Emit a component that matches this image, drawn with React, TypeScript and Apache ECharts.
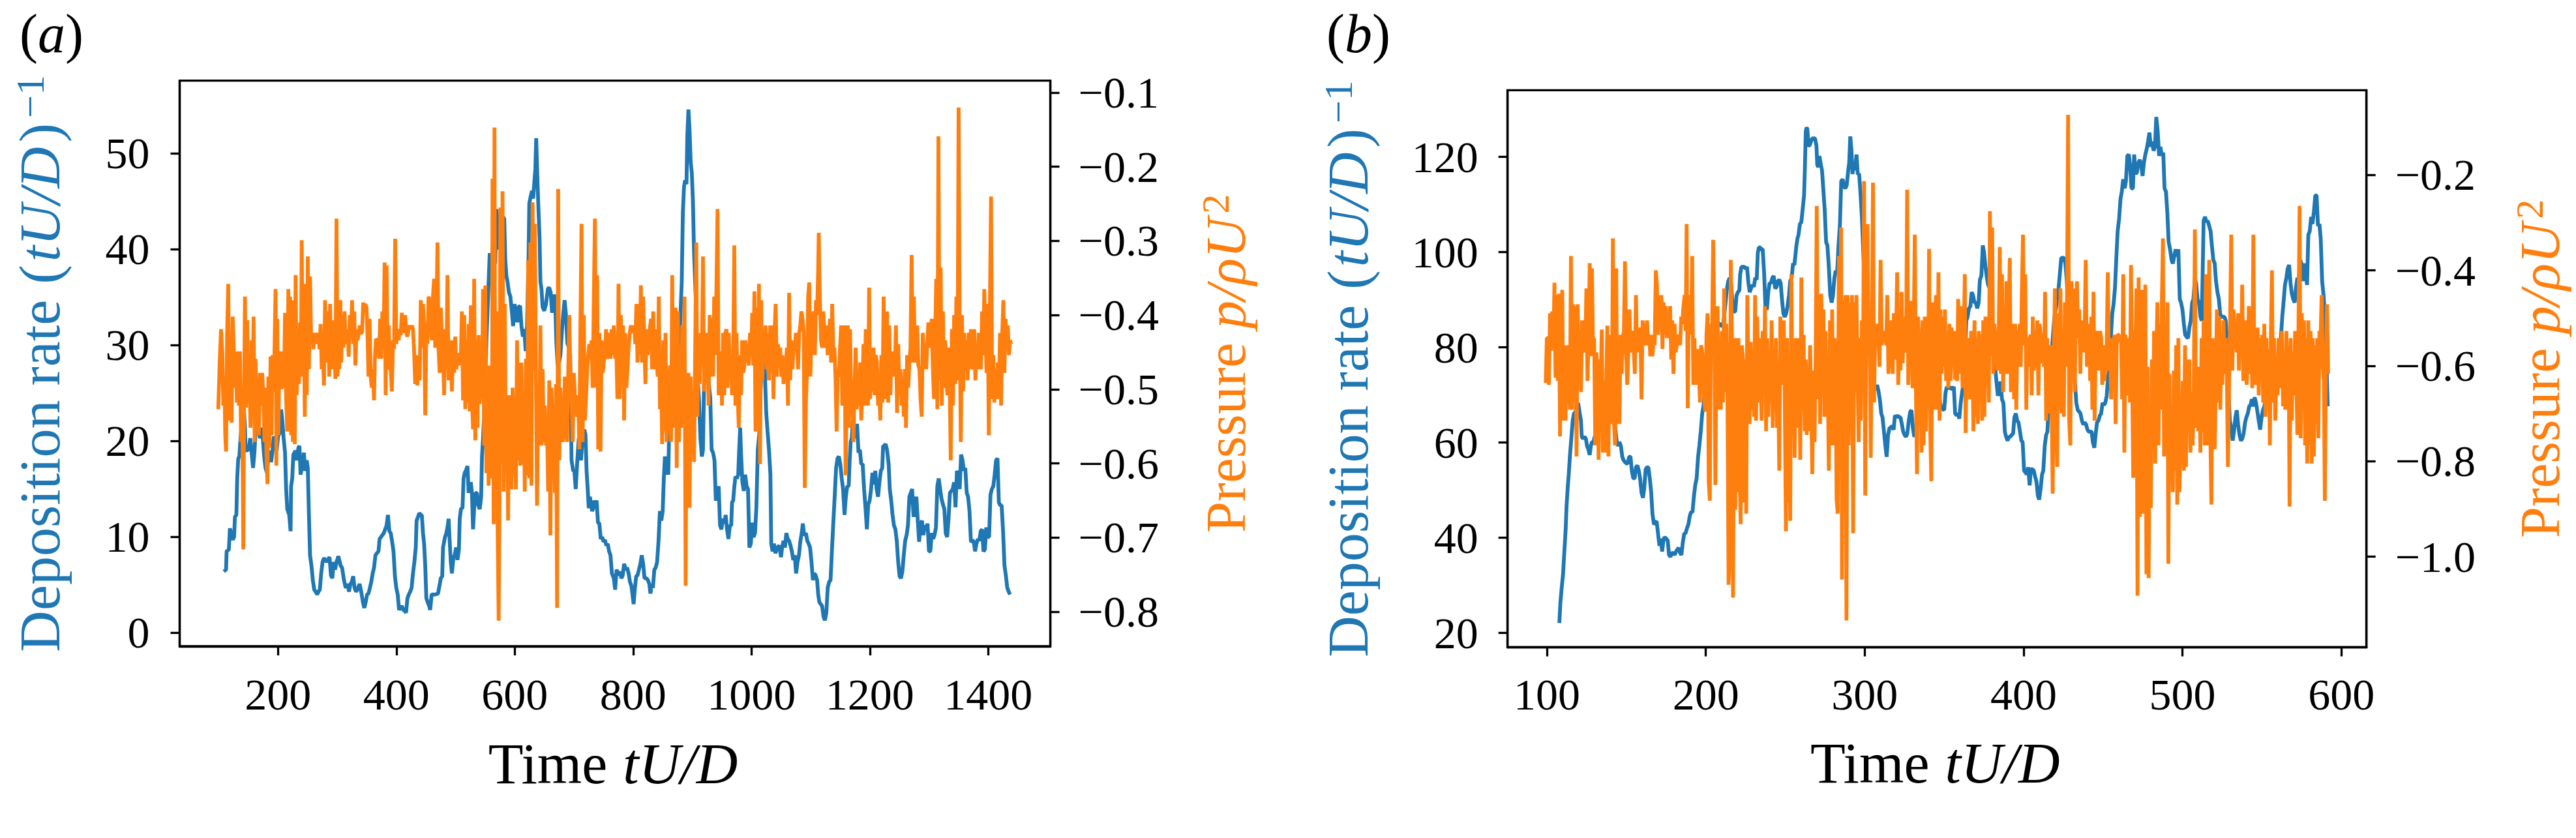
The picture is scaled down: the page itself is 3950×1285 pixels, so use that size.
import React, { useEffect, useRef } from 'react';
import * as echarts from 'echarts';

const BLUE = '#1f77b4';
const ORANGE = '#ff7f0e';
const FONT = '"Liberation Serif", "Times New Roman", serif';

// ---------- Panel (a) ----------
const timeRangeA = [33.9, 1505];
const depRangeA = [-1.4, 57.6];
const presRangeA = [-0.8466, -0.0839];
const timeTicksA = [200, 400, 600, 800, 1000, 1200, 1400];
const depTicksA = [0, 10, 20, 30, 40, 50];
const presTicksA = [-0.8, -0.7, -0.6, -0.5, -0.4, -0.3, -0.2, -0.1];

const depositionA: [number, number][] = [
  [108.5,6.4],[112.3,6.6],[113.2,8.5],[117,8.7],[118.8,10.9],[121.7,10.2],[123.5,9.7],[125.9,10],[127.3,12.1],[129.7,12.3],[131.1,16.1],[132.9,18.2],[134.8,18.4],[136.7,20.3],[139.1,21.8],[142.3,23.5],[144.2,21.4],[145.2,19.1],[148.5,19],[150.8,19.3],[153.2,20.3],[155.5,18.8],[157.9,17.2],[160.2,18.8],[162.6,21.4],[164.9,23.5],[167.3,21.4],[169.6,20.3],[172,21.4],[174.3,20.3],[176.7,18.4],[179,17.2],[181.4,16.7],[183.7,18.4],[186.1,19],[188.4,17.8],[190.8,19],[193.1,20.5],[195.5,19.3],[197.8,19],[200.2,20.5],[203.4,20.9],[205.3,23.3],[207.2,22.2],[209.6,20.3],[211.9,18.8],[213.8,15],[215.7,12.9],[219,12.3],[221.3,10.6],[222.2,15.3],[224.1,16.1],[226,18.6],[229.8,19],[231.6,18],[234.5,19.3],[236.3,19.5],[238.2,16.5],[241,17.6],[243.9,18.8],[245.7,16.9],[248.6,18],[250.4,17.2],[252.3,12.3],[254.2,8.1],[256.6,7],[258.9,5.5],[261.3,4.5],[263.6,4.3],[266.4,4],[268.3,4.3],[270.7,4.5],[273,6.2],[275.4,7.4],[277.7,7.8],[282.4,7.4],[287.1,7.9],[289.5,6],[291.8,5.7],[294.2,7.4],[296.5,6.6],[298.9,7.4],[302.1,8],[305.9,7],[308.3,6.8],[311.5,5.5],[314.4,4.7],[317.7,5.1],[320,4.3],[322.4,5.1],[324.7,5.3],[327.1,5.9],[329.4,4.7],[331.8,4.3],[334.1,4.5],[337.9,5.1],[341.2,4.1],[343.5,3.2],[345.9,2.6],[348.2,3.2],[350.6,4],[352.9,4.1],[355.3,4.7],[357.6,5.3],[360,6.2],[362.3,6.8],[364.7,8.1],[367,8.3],[369.8,8.5],[371.7,9.8],[374.1,10],[376.4,10.2],[378.8,10.4],[381.1,10.8],[383.5,11.2],[385.8,12.3],[388.2,10.6],[390.5,10.4],[392.9,9.5],[395.2,8.5],[397.6,5.9],[399.9,4.7],[402.3,4],[404.6,2.4],[407,2.6],[409.3,2.8],[411.7,2.4],[414,2.3],[416.4,2.1],[418.7,3.6],[421.1,4],[423.4,4.3],[425.8,4.7],[428.1,6.2],[430.5,7.4],[432.8,8.9],[434.2,11.7],[436.6,12.1],[438.9,12.5],[441.3,12.3],[443.1,12.3],[445,10.4],[446.9,9.3],[448.8,7],[450.7,3.6],[453,3.2],[455.4,2.8],[457.2,2.4],[459.6,4],[461.9,4],[465.7,4],[470.4,4.1],[472.8,4.9],[475.1,5.7],[477.5,5.9],[478.9,8.9],[482.2,10],[484.5,10.4],[486.9,11.2],[488.3,11.9],[490.1,9.6],[492,7.4],[493.9,6.2],[496.3,7.8],[498.6,8.1],[501,8.9],[503.3,7.6],[505.7,8.7],[507.1,11.9],[509.4,13],[511.8,13],[513.6,16.1],[515.5,16.7],[517.4,16.9],[520.2,17.4],[522.1,14.6],[524,15.3],[525.9,15.7],[527.7,14.6],[529.6,10.8],[531.5,13],[533.9,14.6],[536.2,14.6],[538.6,13.3],[540.9,12.9],[543.3,14.2],[544.7,18.4],[546.5,20.3],[548.4,22.9],[550.3,26.3],[552.2,30.5],[554.1,33.6],[555.9,36.6],[557.8,39.6],[559.7,39.3],[561.6,38.5],[563.5,41.5],[565.3,41.5],[567.2,38.5],[569.1,44.2],[571,42.7],[572.9,40],[574.7,41.5],[576.6,43.6],[578.5,40],[580.4,43.4],[582.3,43.2],[584.1,38.9],[586,37.2],[587.9,36.6],[590.3,35.5],[592.6,35.1],[595,33.6],[597.3,32],[599.7,34.3],[602,33.6],[604.4,32.4],[606.7,34],[609.1,34.1],[611.4,32],[613.8,30.9],[616.1,31.7],[618.5,29.4],[620.8,32],[623.2,38.5],[624.6,44.8],[626.9,45.5],[629.3,46.1],[631.1,45.3],[633,46.9],[634.9,48.4],[636.3,51.6],[638.2,47.6],[640.1,44.2],[642,41.2],[643.4,36.6],[645.2,35.9],[647.1,34],[649.9,33.6],[652.8,34.3],[656.1,35.9],[658.4,36],[660.8,35.5],[663.1,33.4],[665,34],[666.9,35.3],[668.7,34],[670.2,30.5],[672.5,27.9],[674.9,28.2],[677.2,29],[679.6,31.3],[681.9,33.2],[684.3,34.7],[686.6,33.2],[689,30.2],[691.3,29.8],[693.7,29],[696,18],[698.8,16.9],[700.7,16.9],[703.1,15],[705.4,17.6],[708.2,20.3],[710.1,19.1],[712,18],[714.8,20.3],[717.6,21.2],[719.5,20.7],[721.4,16.9],[723.3,15],[725.1,13],[727,14.2],[728.9,13.4],[730.8,12.7],[732.7,13],[734.5,13.8],[736.4,13.4],[738.3,13.8],[740.7,11.5],[743,11.4],[745.4,9.8],[747.7,10],[750.1,9.5],[752.4,9.7],[754.8,9.1],[757.1,9.3],[759.5,8.5],[761.8,8.1],[764.2,6.2],
  [767.4,5.7],[769.7,4.5],[772.1,6.6],[775.4,6],[777.8,6.4],[780.1,5.7],[782.5,6],[784.8,7.2],[787.7,6.6],[790,6.8],[792.4,6.2],[794.8,5.3],[797.1,4.9],[799,4],[800.9,3],[802.8,4.5],[805.2,5.9],[807.5,6],[809.9,6.6],[812.3,7.2],[814.6,8.1],[817,7.2],[819.3,5.7],[822.6,5.7],[825,5.5],[827.4,5.1],[829.3,4.1],[831.2,4.9],[833.5,4.7],[835.9,6.6],[838.2,6.8],[840.6,7.4],[843,9.6],[845.3,12.7],[847.7,11.7],[850,12.7],[851.9,16.1],[853.8,18.4],[855.7,16.5],[858.1,17.6],[859.5,16.5],[861.9,24.1],[864.2,25],[866.6,23.7],[869,22.6],[871.3,25.2],[873.7,27.5],[876,28.6],[877.5,29],[879.3,32],[882.2,36.6],[884.1,43.8],[886,46.5],[887.9,47.2],[890.2,46.8],[891.6,51.8],[893.5,54.6],[895.4,52.5],[897.3,49.1],[899.2,48],[901.1,45],[903,39.6],[904.9,36.6],[906.8,33.2],[909.1,26.7],[911.5,24.1],[913.8,20.3],[916.2,18.4],[918.1,19.1],[920,26.3],[921.9,28.6],[923.8,29],[925.7,27.9],[928,26],[930.4,24.5],[932.7,19.1],[935.1,18.8],[937.5,18],[939.8,13.8],[942.2,14.2],[944.6,15.3],[946.9,11.2],[949.3,10.8],[951.6,11.9],[954,11.4],[956.4,12.3],[958.7,10.8],[961.1,9.8],[963.5,11.2],[965.8,11.2],[967.2,13.6],[969.1,13.8],[971,15.2],[972.9,16.3],[975.3,16.1],[977.6,16.5],[979,18.8],[980.9,21.4],[982.4,18.8],[984.7,15.7],[987.1,14.8],[989.4,16.5],[991.8,15.3],[994.2,15],[996.5,8.9],[998.9,9.3],[1001.3,11.5],[1003.6,10],[1006,10.4],[1008.3,13.1],[1010.7,19.1],[1013.1,20.7],[1015.4,25.2],[1017.8,29],[1020.2,29.8],[1022.5,27.5],[1024.9,23],[1027.2,21],[1029.6,19.1],[1032,16.5],[1033.4,9.3],[1035.7,8.5],[1038.1,9.3],[1040.5,8.3],[1043.8,8.9],[1047.1,9.1],[1049.9,7.9],[1051.8,8.9],[1054.2,9.6],[1056.5,8.9],[1058.9,10.4],[1061.3,9.8],[1063.6,9.6],[1066,9.1],[1068.3,8.5],[1070.7,7.6],[1073.1,8.1],[1075.4,6.2],[1077.8,7.4],[1080.2,8.1],[1082.5,9.5],[1084.9,10.4],[1086.8,11.4],[1089.1,10.2],[1092,10.4],[1094.3,9.6],[1096.7,9.3],[1099,8.9],[1101.4,7.4],[1103.8,5.5],[1106.1,6.2],[1108.5,6],[1110.9,5.5],[1112.8,4],[1114.7,3.2],[1117,3],[1119.4,2.8],[1121.7,1.7],[1124.1,1.3],[1126.5,2.1],[1128.8,4.7],[1131.2,5.3],[1133.6,5.5],[1135.9,8.5],[1138.3,11.5],[1140.6,14.2],[1143,17.2],[1145.4,18.2],[1147.7,18.4],[1150.1,17.6],[1152.5,16.1],[1154.8,15],[1157.2,12.3],[1159.5,14.2],[1161.9,15.3],[1164.3,15.3],[1165.7,17.6],[1167.6,19.9],[1169.5,20.3],[1171.4,22.2],[1173.7,21],[1176.1,20.3],[1178.4,21.8],[1180.8,18.8],[1183.2,19.1],[1185.5,17.6],[1187.9,17.6],[1190.3,15],[1192.6,13.1],[1195,10.8],[1197.3,13.4],[1199.7,13.8],[1202.1,15],[1204.4,16.7],[1206.8,15.5],[1209.2,16.9],[1211.5,15],[1213.9,14.2],[1216.2,15.7],[1218.6,16.9],[1221,17.2],[1222.4,19.5],[1224.3,19.5],[1226.6,19.7],[1229,19.1],[1231.8,17.6],[1233.7,15],[1236.1,13.8],[1238.4,12.3],[1240.8,11.2],[1243.2,10.8],[1245.5,9.6],[1247.9,7.4],[1250.3,5.9],[1252.6,5.7],[1255,6.4],[1257.3,8.1],[1259.7,9.6],[1262.1,10.2],[1264.4,11.2],[1266.8,14.2],[1269.2,14.6],[1271.5,15],[1273.9,12.1],[1276.2,13.1],[1278.6,14.2],[1281,11.7],[1283.3,9.5],[1285.7,11.4],[1288.1,11.7],[1290.4,10.2],[1292.8,11.2],[1295.1,10.8],[1297.5,11.4],[1299.9,8.5],[1302.2,8.5],[1304.6,10.4],[1307,9.8],[1309.3,10.2],[1311.7,11],[1314,15.3],[1316.4,16.1],[1318.8,15],[1321.1,14],[1323.5,13.4],[1325.9,12.9],[1328.2,10.4],[1330.6,10],[1333,11.9],[1335.3,14.6],[1337.7,14.8],[1340,15],[1342.4,15.7],[1344.8,13.1],[1347.1,16.9],[1349.5,16.5],[1351.8,15],[1354.2,18.6],[1356.6,18],[1358.9,16.9],[1361.3,17.2],[1363.7,14.6],[1366,14.2],[1368.4,12.7],[1370.8,9.5],[1373.1,9.6],[1375.5,9.6],[1377.8,8.5],[1380.2,9.3],[1382.6,9.8],[1384.9,9.6],[1387.3,10.6],[1389.7,10.8],[1392,8.5],[1394.4,8.7],[1396.7,11],[1399.1,10],[1401.5,10],[1403.8,14.4],[1406.2,15],[1408.6,15.3],[1410.9,16.5],[1413.3,18],[1415.7,18.2],[1418,13.6],[1420.4,13.3],[1422.7,13.3],[1425.1,10.6],[1427.5,7],[1429.8,6],[1432.2,4.7],[1434.6,4.3],[1436.9,4]
];

const pressureA: [number, number][] = [
  [99.1,-0.527],[101.5,-0.464],[103.8,-0.419],[106.2,-0.454],[107.6,-0.522],[109.4,-0.483],[110.9,-0.562],[112.3,-0.584],[114.1,-0.424],[116,-0.358],[117.9,-0.542],[119.8,-0.508],[121.7,-0.545],[123.5,-0.402],[125.4,-0.449],[127.3,-0.498],[129.2,-0.449],[130.6,-0.518],[132.5,-0.454],[133.9,-0.522],[135.8,-0.449],[137.6,-0.571],[139.5,-0.508],[141.4,-0.716],[142.8,-0.513],[144.2,-0.375],[146.1,-0.525],[148,-0.407],[149.9,-0.518],[151.7,-0.473],[153.6,-0.552],[155.5,-0.434],[156.9,-0.513],[158.8,-0.402],[160.7,-0.571],[162.1,-0.459],[164,-0.522],[165.8,-0.513],[167.7,-0.562],[169.6,-0.478],[171.5,-0.522],[173.4,-0.478],[175.2,-0.508],[177.1,-0.571],[179,-0.498],[180.4,-0.586],[182.3,-0.628],[183.7,-0.483],[185.6,-0.579],[187.5,-0.456],[188.9,-0.562],[190.8,-0.454],[192.6,-0.503],[194,-0.454],[195.9,-0.365],[197.3,-0.603],[198.7,-0.405],[200.6,-0.562],[202.5,-0.449],[204.4,-0.459],[206.3,-0.5],[208.1,-0.449],[210,-0.498],[211.9,-0.397],[213.8,-0.513],[215.7,-0.557],[217.5,-0.365],[219,-0.557],[220.4,-0.375],[222.2,-0.562],[223.7,-0.38],[225.1,-0.571],[226.9,-0.424],[228.4,-0.574],[229.8,-0.346],[231.6,-0.508],[233.5,-0.449],[235.4,-0.493],[237.3,-0.41],[238.7,-0.483],[240.1,-0.299],[242,-0.473],[243.9,-0.424],[245.3,-0.537],[247.2,-0.358],[248.6,-0.508],[250.4,-0.321],[252.3,-0.473],[254.2,-0.348],[256.1,-0.434],[258,-0.424],[259.8,-0.446],[261.3,-0.424],[263.1,-0.439],[264.5,-0.424],[266.4,-0.434],[268.3,-0.424],[270.2,-0.446],[272.1,-0.412],[273.9,-0.473],[275.8,-0.451],[277.7,-0.495],[279.6,-0.38],[281.5,-0.464],[282.9,-0.444],[284.8,-0.395],[286.6,-0.483],[288,-0.385],[289.9,-0.464],[291.8,-0.407],[293.2,-0.473],[295.1,-0.434],[297,-0.486],[298.9,-0.27],[300.7,-0.483],[302.1,-0.424],[303.6,-0.473],[305.4,-0.38],[306.8,-0.464],[308.7,-0.41],[310.6,-0.444],[312.5,-0.395],[314.4,-0.439],[315.8,-0.424],[317.7,-0.419],[319.5,-0.456],[321.4,-0.4],[323.3,-0.424],[325.2,-0.38],[327.1,-0.439],[328.9,-0.395],[330.8,-0.468],[332.7,-0.419],[334.6,-0.434],[336.5,-0.424],[338.3,-0.414],[340.2,-0.424],[342.1,-0.424],[344,-0.383],[345.9,-0.395],[347.7,-0.385],[349.6,-0.39],[351.5,-0.434],[352.9,-0.483],[354.8,-0.405],[356.7,-0.483],[358.5,-0.498],[360.4,-0.473],[362.3,-0.515],[363.7,-0.459],[365.6,-0.432],[367.5,-0.434],[369.4,-0.434],[370.8,-0.459],[372.6,-0.405],[374.5,-0.459],[376.4,-0.395],[378.3,-0.444],[380.2,-0.329],[382,-0.508],[383.5,-0.333],[385.3,-0.454],[387.2,-0.414],[388.6,-0.473],[390.5,-0.473],[392.4,-0.503],[394.3,-0.434],[396.1,-0.446],[398,-0.297],[399.9,-0.439],[401.8,-0.419],[403.7,-0.434],[405.5,-0.424],[407.4,-0.427],[409.3,-0.397],[411.2,-0.414],[413.1,-0.424],[414.9,-0.4],[416.8,-0.424],[418.7,-0.429],[420.6,-0.419],[422.5,-0.414],[424.3,-0.419],[426.2,-0.414],[428.1,-0.419],[430,-0.449],[431.9,-0.493],[433.7,-0.454],[435.6,-0.495],[437.5,-0.461],[439.4,-0.488],[441.3,-0.38],[443.1,-0.444],[445,-0.385],[446.9,-0.414],[448.8,-0.535],[450.7,-0.419],[452.5,-0.439],[454.4,-0.375],[456.3,-0.38],[458.2,-0.414],[460.1,-0.434],[461.9,-0.375],[463.8,-0.351],[465.7,-0.444],[467.6,-0.405],[469.5,-0.302],[471.3,-0.446],[473.2,-0.478],[475.1,-0.39],[477,-0.429],[478.9,-0.454],[480.7,-0.508],[482.6,-0.419],[484.5,-0.473],[486.4,-0.346],[488.3,-0.488],[490.1,-0.434],[492,-0.459],[493.9,-0.503],[495.8,-0.434],[497.7,-0.478],[499.5,-0.429],[501.4,-0.473],[503.3,-0.454],[505.2,-0.468],[507.1,-0.451],[508.9,-0.459],[510.8,-0.395],[512.7,-0.515],[514.6,-0.4],[516.5,-0.527],[518.3,-0.434],[520.2,-0.518],[522.1,-0.412],[524,-0.53],[525.9,-0.387],[527.7,-0.513],[529.6,-0.554],[531.5,-0.351],[533.4,-0.569],[535.3,-0.434],[537.1,-0.552],[539,-0.427],[540.9,-0.52],[542.8,-0.454],[544.7,-0.513],[546.5,-0.365],[548.4,-0.576],[550.3,-0.36],[552.2,-0.613],[554.1,-0.513],[555.9,-0.63],[557.8,-0.468],[559.7,-0.596],[561.6,-0.62],[562.5,-0.216],[564.4,-0.682],[565.8,-0.147],[567.2,-0.635],[569.1,-0.395],[571,-0.679],[572.9,-0.812],[574.3,-0.645],[575.7,-0.255],[577.6,-0.601],[579.4,-0.233],[581.3,-0.638],[583.2,-0.385],[585.1,-0.611],[587,-0.542],[588.8,-0.677],[590.7,-0.508],[592.6,-0.591],[594.5,-0.635],[596.4,-0.498],[598.2,-0.616],[600.1,-0.508],[602,-0.635],[603.9,-0.434],[605.8,-0.596],[607.6,-0.464],[609.5,-0.603],[611.4,-0.464],[613.3,-0.601],[615.2,-0.522],[617,-0.638],[618.9,-0.459],[620.8,-0.616],[622.7,-0.326],[624.6,-0.62],[626.4,-0.302],[628.3,-0.63],[630.2,-0.248],[632.1,-0.473],[634,-0.277],[635.8,-0.473],[637.7,-0.657],[639.6,-0.522],[641.5,-0.576],[643.4,-0.414],[645.2,-0.576],[647.1,-0.473],[649,-0.571],[650.9,-0.522],[652.8,-0.576],[654.6,-0.547],[656.5,-0.638],[658.4,-0.488],[660.3,-0.697],[662.2,-0.498],[664,-0.571],[665.9,-0.522],[667.8,-0.64],[669.7,-0.493],[671.6,-0.795],[673.4,-0.23],[675.3,-0.596],[677.2,-0.498],[679.1,-0.554],[681,-0.571],[682.8,-0.562],[684.7,-0.483],[686.6,-0.527],[688.5,-0.571],[690.4,-0.478],[692.2,-0.4],[694.1,-0.478],[696,-0.513],[697.9,-0.571],[699.8,-0.478],[701.6,-0.508],[703.5,-0.522],[705.4,-0.537],[707.3,-0.508],[709.2,-0.581],[711,-0.414],[712.9,-0.277],[714.8,-0.571],[716.7,-0.4],[718.6,-0.542],[720.4,-0.513],[722.3,-0.478],[724.2,-0.454],[726.1,-0.439],[728,-0.459],[729.8,-0.434],[731.7,-0.498],[733.6,-0.38],[735.5,-0.27],[737.4,-0.498],[739.2,-0.346],[741.1,-0.581],[743,-0.424],[744.9,-0.584],[746.8,-0.434],[748.6,-0.478],[750.5,-0.464],[752.4,-0.454],[754.3,-0.419],[756.2,-0.459],[758,-0.439],[759.9,-0.424],[761.8,-0.459],[763.7,-0.419],[765.6,-0.454],
  [767.4,-0.414],[769.7,-0.459],[771.6,-0.444],[773.5,-0.513],[775.4,-0.358],[777.3,-0.513],[779.2,-0.4],[781.1,-0.454],[783,-0.414],[784.8,-0.542],[786.7,-0.424],[788.6,-0.498],[790.5,-0.473],[792.4,-0.444],[794.3,-0.424],[796.2,-0.414],[798.1,-0.419],[800,-0.424],[801.9,-0.414],[803.7,-0.439],[805.6,-0.385],[807.5,-0.464],[809.4,-0.385],[811.3,-0.454],[813.2,-0.36],[815.1,-0.464],[817,-0.375],[818.9,-0.434],[820.8,-0.493],[822.6,-0.419],[824.5,-0.454],[826.4,-0.424],[828.3,-0.419],[830.2,-0.405],[832.1,-0.473],[834,-0.395],[835.9,-0.473],[837.8,-0.419],[839.7,-0.454],[841.5,-0.483],[843.4,-0.375],[845.3,-0.527],[847.2,-0.483],[849.1,-0.574],[851,-0.434],[852.9,-0.557],[854.8,-0.424],[856.7,-0.571],[858.6,-0.537],[860.4,-0.498],[862.3,-0.468],[864.2,-0.571],[866.1,-0.346],[868,-0.552],[869.9,-0.513],[871.8,-0.39],[873.7,-0.606],[875.6,-0.395],[877.5,-0.571],[879.3,-0.464],[881.2,-0.552],[883.1,-0.414],[885,-0.518],[886.9,-0.375],[888.8,-0.765],[890.2,-0.537],[891.6,-0.66],[893.5,-0.478],[895.4,-0.66],[897.3,-0.483],[899.2,-0.576],[901.1,-0.537],[903,-0.598],[904.9,-0.449],[906.8,-0.302],[908.6,-0.537],[910.5,-0.434],[912.4,-0.493],[914.3,-0.424],[916.2,-0.464],[918.1,-0.321],[920,-0.503],[921.9,-0.434],[923.8,-0.473],[925.7,-0.424],[927.5,-0.522],[929.4,-0.4],[931.3,-0.483],[933.2,-0.405],[935.1,-0.483],[937,-0.375],[938.9,-0.454],[940.8,-0.365],[942.7,-0.257],[944.6,-0.508],[946.4,-0.464],[948.3,-0.449],[950.2,-0.522],[952.1,-0.424],[954,-0.508],[955.9,-0.424],[957.8,-0.419],[959.7,-0.498],[961.6,-0.424],[963.5,-0.473],[965.3,-0.454],[967.2,-0.508],[969.1,-0.464],[971,-0.306],[972.9,-0.522],[974.8,-0.424],[976.7,-0.508],[978.6,-0.552],[980.5,-0.454],[982.4,-0.508],[984.2,-0.434],[986.1,-0.478],[988,-0.468],[989.9,-0.434],[991.8,-0.464],[993.7,-0.439],[995.6,-0.468],[997.5,-0.424],[999.4,-0.454],[1001.3,-0.397],[1003.1,-0.468],[1005,-0.368],[1006.9,-0.557],[1008.8,-0.39],[1010.7,-0.552],[1012.6,-0.358],[1014.5,-0.601],[1016.4,-0.38],[1018.3,-0.488],[1020.2,-0.424],[1022,-0.454],[1023.9,-0.414],[1025.8,-0.473],[1027.7,-0.424],[1029.6,-0.488],[1031.5,-0.414],[1033.4,-0.459],[1035.3,-0.414],[1037.2,-0.513],[1039.1,-0.424],[1040.9,-0.385],[1042.8,-0.483],[1044.7,-0.439],[1046.6,-0.459],[1048.5,-0.444],[1050.4,-0.483],[1052.3,-0.454],[1054.2,-0.493],[1056.1,-0.464],[1058,-0.473],[1059.9,-0.444],[1061.7,-0.522],[1063.6,-0.37],[1065.5,-0.488],[1067.4,-0.434],[1069.3,-0.473],[1071.2,-0.444],[1073.1,-0.449],[1075,-0.424],[1076.9,-0.434],[1078.7,-0.473],[1080.6,-0.424],[1082.5,-0.414],[1084.4,-0.395],[1086.3,-0.405],[1088.2,-0.424],[1090.1,-0.633],[1092,-0.518],[1093.9,-0.473],[1095.8,-0.375],[1097.6,-0.356],[1099.5,-0.483],[1101.4,-0.424],[1103.3,-0.405],[1105.2,-0.395],[1107.1,-0.454],[1109,-0.38],[1110.9,-0.4],[1112.8,-0.336],[1113.7,-0.289],[1115.6,-0.38],[1117.5,-0.434],[1119.4,-0.444],[1121.3,-0.395],[1123.2,-0.424],[1125,-0.444],[1126.9,-0.414],[1128.8,-0.454],[1130.7,-0.434],[1132.6,-0.405],[1134.5,-0.464],[1136.4,-0.385],[1138.3,-0.449],[1140.2,-0.444],[1142,-0.483],[1143.9,-0.557],[1145.8,-0.473],[1147.7,-0.483],[1149.6,-0.444],[1151.5,-0.414],[1153.4,-0.522],[1155.3,-0.478],[1157.2,-0.414],[1159.1,-0.616],[1160.9,-0.513],[1162.8,-0.414],[1164.7,-0.552],[1166.6,-0.419],[1168.5,-0.518],[1170.4,-0.488],[1172.3,-0.571],[1174.2,-0.493],[1176.1,-0.444],[1177.9,-0.527],[1179.8,-0.488],[1181.7,-0.522],[1183.6,-0.464],[1185.5,-0.542],[1187.4,-0.498],[1189.3,-0.439],[1191.2,-0.522],[1193.1,-0.419],[1195,-0.493],[1196.9,-0.522],[1198.8,-0.363],[1200.6,-0.513],[1202.5,-0.454],[1204.4,-0.503],[1206.3,-0.444],[1208.2,-0.508],[1210.1,-0.454],[1212,-0.464],[1213.9,-0.522],[1215.8,-0.493],[1217.7,-0.542],[1219.5,-0.454],[1221.4,-0.518],[1223.3,-0.375],[1225.2,-0.513],[1227.1,-0.454],[1229,-0.395],[1230.9,-0.518],[1232.8,-0.414],[1234.7,-0.508],[1236.6,-0.449],[1238.4,-0.473],[1240.3,-0.454],[1242.2,-0.483],[1244.1,-0.414],[1246,-0.532],[1247.9,-0.439],[1249.8,-0.498],[1251.7,-0.473],[1253.6,-0.522],[1255.5,-0.483],[1257.3,-0.537],[1259.2,-0.473],[1261.1,-0.552],[1263,-0.454],[1264.9,-0.498],[1266.8,-0.464],[1268.7,-0.444],[1270.6,-0.319],[1272.5,-0.464],[1274.4,-0.375],[1276.3,-0.464],[1278.1,-0.444],[1280,-0.414],[1281.9,-0.468],[1283.8,-0.473],[1285.7,-0.513],[1287.6,-0.537],[1289.5,-0.424],[1291.4,-0.454],[1293.3,-0.444],[1295.2,-0.473],[1297,-0.439],[1298.9,-0.41],[1300.8,-0.424],[1302.7,-0.444],[1304.6,-0.405],[1306.5,-0.473],[1308.4,-0.513],[1310.3,-0.434],[1312.2,-0.351],[1314.1,-0.527],[1315.9,-0.159],[1317.8,-0.488],[1319.7,-0.336],[1321.6,-0.522],[1323.5,-0.395],[1325.4,-0.498],[1327.3,-0.434],[1329.2,-0.488],[1331.1,-0.508],[1333,-0.444],[1334.8,-0.488],[1336.7,-0.596],[1338.6,-0.419],[1340.5,-0.522],[1342.4,-0.4],[1344.3,-0.493],[1346.2,-0.375],[1348.1,-0.488],[1350,-0.12],[1351.8,-0.424],[1353.7,-0.571],[1355.6,-0.4],[1357.5,-0.503],[1359.4,-0.424],[1361.3,-0.473],[1363.2,-0.434],[1365.1,-0.488],[1367,-0.424],[1368.9,-0.473],[1370.7,-0.419],[1372.6,-0.464],[1374.5,-0.473],[1376.4,-0.419],[1378.3,-0.488],[1380.2,-0.444],[1382.1,-0.473],[1384,-0.424],[1385.9,-0.454],[1387.8,-0.473],[1389.6,-0.395],[1391.5,-0.454],[1393.4,-0.365],[1395.3,-0.424],[1397.2,-0.478],[1399.1,-0.385],[1401,-0.562],[1402.9,-0.385],[1404.8,-0.24],[1406.7,-0.513],[1408.5,-0.454],[1410.4,-0.518],[1412.3,-0.473],[1414.2,-0.513],[1416.1,-0.464],[1418,-0.513],[1419.9,-0.424],[1421.8,-0.522],[1423.7,-0.424],[1425.6,-0.38],[1427.4,-0.478],[1429.3,-0.405],[1431.2,-0.434],[1433.1,-0.414],[1435,-0.454],[1436.9,-0.434],[1438.8,-0.439]
];

// ---------- Panel (b) ----------
const timeRangeB = [75.2, 615.8];
const depRangeB = [17.0, 134.0];
const presRangeB = [-1.19, -0.0225];
const timeTicksB = [100, 200, 300, 400, 500, 600];
const depTicksB = [20, 40, 60, 80, 100, 120];
const presTicksB = [-1.0, -0.8, -0.6, -0.4, -0.2];

const depositionB: [number, number][] = [
  [107.8,22.1],[108.4,26.2],[109.2,29.3],[110.1,32.3],[111,37.5],[111.8,42],[112.3,46.5],[113,50.3],[113.7,53.3],[114.4,57],[115.3,60.8],[116.2,64.6],[117,66.1],[117.9,66.4],[118.8,67.6],[119.6,68.3],[120.5,66.4],[121.4,64.6],[121.9,61.2],[122.7,60.8],[123.6,61.2],[124.5,60.8],[125.2,59.3],[126,58.6],[126.9,57.4],[127.6,59.3],[128.3,60.1],[129.2,60.1],[130,61.2],[130.9,61.9],[131.8,61.6],[132.6,63.1],[133.5,62.3],[134.4,62.7],[135.2,63.8],[136.1,66.1],[137,67.6],[137.8,68.7],[138.7,69.1],[139.6,70.2],[140.4,69.1],[141.3,67.2],[142.2,64.6],[143,63.1],[143.9,60.1],[144.8,59.3],[145.6,60.1],[146.5,59.3],[147.4,57],[148.2,56.3],[149.1,55.9],[150,55.6],[150.8,55.6],[151.7,57],[152.6,57],[153.4,54.1],[154.3,52.5],[155.2,52.5],[156,54.8],[156.9,55.2],[157.8,54.1],[158.6,52.5],[159.5,49.5],[160.4,48.4],[161.2,50.3],[162.1,54.4],[163,54.8],[163.8,54.8],[164.7,52.5],[165.6,49.5],[166.4,45],[167.3,42.8],[168.2,43.2],[169,43.5],[169.9,40.9],[170.8,38.3],[171.6,39.8],[172.5,37.1],[173.4,39.8],[174.2,40.1],[175.1,39.8],[176,39.4],[176.8,36.4],[177.7,36],[178.6,36.8],[179.4,36.8],[180.3,36.4],[181.2,37.1],[182,37.5],[182.9,37.9],[183.8,36.8],[184.6,36.4],[185.5,39],[186.4,40.9],[187.2,40.9],[188.1,42],[189,42.8],[189.9,44.6],[190.7,45.4],[191.6,45.4],[192.5,48.8],[193.3,51],[194.2,52.5],[195.1,57],[195.9,59.3],[196.8,62.3],[197.7,66.1],[198.5,67.6],[199.4,71.3],[200.3,72.1],[201.1,72.8],[202,78.9],[202.9,82.6],[203.7,83],[204.6,84.1],[205.5,84.1],[206.3,85.2],[207.2,85.6],[208.1,84.9],[208.9,84.9],[209.8,84.5],[210.7,84.5],[211.5,86.4],[212.4,89.4],[213.3,92.4],[214.1,93.9],[215,94.6],[215.9,93.5],[216.7,89.4],[217.6,87.5],[218.5,87.5],[219.3,90.9],[220.2,91.6],[221.1,92],[221.6,95.4],[222.4,96.9],[223.3,96.9],[224.2,96.9],[225,96.5],[225.9,96.9],[226.8,93.5],[227.6,91.6],[228.5,92.4],[229.4,93.1],[230.2,92.7],[231.1,94.6],[232,94.2],[232.7,99.9],[233.4,101],[234.1,101],[234.9,100.6],[235.8,100.6],[236.7,95.4],[237.5,88.6],[238.4,87.9],[239.3,91.6],[240.1,93.5],[241,93.5],[241.9,94.6],[242.7,95],[243.6,92.4],[244.5,92.7],[245.3,93.9],[246.2,94.2],[247.1,93.5],[247.9,90.1],[248.8,87.1],[249.7,86.4],[250.5,87.1],[251.4,88.6],[252.3,90.9],[253.1,93.9],[254,94.6],[254.9,97.6],[255.7,97.3],[256.3,99.1],[257,101.4],[257.7,102.9],[258.3,103.6],[259.2,105.9],[260.1,106.3],[260.9,108.9],[261.8,111.9],[262.3,117.2],[262.9,125.4],[263.4,126.2],[263.9,125.8],[264.6,122.4],[265.3,122.4],[266.1,123.2],[267,123.9],[267.9,123.9],[268.7,123.9],[269.6,122.4],[270.1,118.3],[270.8,117.9],[271.5,120.2],[272.2,118.7],[273.1,117.2],[273.9,113.4],[274.8,108.9],[275.7,102.1],[276.5,101.4],[277.4,96.9],[278.3,90.9],[279.2,89.4],[280,90.9],[280.9,94.6],[281.8,96.1],[282.6,95.4],[283.5,101.4],[284.4,105.9],[285.2,114.9],[286.1,115.3],[287,113.8],[287.8,113.4],[288.7,114.1],[289.6,117.2],[290.2,118.7],[290.9,124.3],[291.6,121.7],[292.3,116.4],[293,118.7],[293.9,117.2],[294.8,120.5],[295.6,116.4],[296.5,116.4],[297.4,111.9],[298.2,107.4],[299.1,99.9],[300,92.4],[300.8,87.1],[301.7,86.4],[302.6,85.6],[303.4,82.6],[304.3,81.9],[305.2,75.8],[306,72.1],[306.9,71.3],[307.8,72.1],[308.6,70.9],[309.5,69.1],[310.4,66.1],[311.2,65.3],[312.1,62.3],[313,59.3],[313.8,57],[314.7,61.6],[315.6,63.1],[316.4,63.1],[317.3,63.5],[318.2,62.7],[319,65.7],[319.9,65.3],[320.8,65.7],[321.6,65.3],[322.5,65.3],[323.4,63.8],[324.2,62.3],[325.1,61.6],[326,61.2],[326.8,61.9],[327.7,64.6],[328.6,66.4],[329.4,66.8],[330.3,63.1],[331.2,61.2],[332,62.3],[332.9,63.8],[333.8,65.3],[334.6,64.6],[335.5,63.5],[336.4,64.6],[337.2,66.8],[338.1,69.1],[339,69.8],[339.8,77.3],[340.7,79.6],[341.6,81.9],[342.4,82.6],[343.3,79.6],[344.2,77.3],
  [344.8,77.3],[345.7,75.1],[346.5,72.1],[347.4,68.3],[348.3,67.2],[349.1,67],[350,66.8],[350.9,70.6],[351.7,71.7],[352.6,71.3],[353.5,71.7],[354.3,71.3],[355.2,71.3],[356.1,71.7],[356.9,66.1],[357.8,65.7],[358.7,66.1],[359.5,65],[360.4,68.3],[361.3,70.6],[362.1,72.1],[363,77.3],[363.9,85.6],[364.7,86.3],[365.6,88.2],[366.5,88.6],[367.3,91.6],[368.2,90.9],[369.1,89.4],[369.9,89.4],[370.8,88.2],[371.7,89.4],[372.5,94.2],[373.4,95],[374.3,101.4],[375.1,99.9],[376,96.9],[376.9,94.6],[377.7,93.1],[378.6,92.4],[379.5,86.4],[380.3,81.1],[381.2,78.8],[382.1,75.8],[382.9,72.8],[383.8,69.8],[384.7,71.7],[385.5,72.8],[386.4,69.1],[387.3,68.3],[388.2,62.3],[389,61.2],[389.9,60.4],[390.8,61.2],[391.6,61.2],[392.5,61.6],[393.4,61.9],[394.2,65.3],[395.1,66.1],[396,64.6],[396.8,64.2],[397.7,62.3],[398.6,60.4],[399.4,60.1],[400.3,54.1],[401.2,53.7],[402,53.3],[402.9,54.8],[403.8,51],[404.6,54.4],[405.5,54.4],[406.4,54.1],[407.2,52.9],[408.1,51.8],[409,48.8],[409.8,48],[410.7,50.3],[411.6,53.3],[412.4,54.1],[413.3,59.3],[414.2,61.6],[415,62.3],[415.9,69.1],[416.8,72.8],[417.6,78.8],[418.5,82.6],[419.4,86.4],[420.2,87.9],[421.1,90.1],[422,92.4],[422.8,95.4],[423.7,98.8],[424.6,98.8],[425.4,98.8],[426.3,97.6],[427.2,93.9],[428,89.4],[428.9,87.9],[429.8,83.4],[430.6,78.1],[431.5,76.6],[432.4,72.1],[433.2,68.3],[434.1,66.8],[435,66.5],[435.8,66.1],[436.7,64.6],[437.6,63.8],[438.4,64.2],[439.3,63.8],[440.2,62.7],[441,62.3],[441.9,62.3],[442.8,62.3],[443.6,60.1],[444.5,58.9],[445.4,61.9],[446.2,64.2],[447.1,64.6],[448,65.7],[448.8,66.1],[449.7,68.3],[450.6,67.9],[451.4,68.3],[452.3,69.8],[453.2,73.9],[454,75.1],[454.9,81.9],[455.8,87.1],[456.6,89],[457.5,92.4],[458.4,99.1],[459.2,104.4],[460.1,107],[461,111.2],[461.8,112.7],[462.7,115.3],[463.6,113.4],[464.4,114.9],[465.3,120.2],[466.2,120.5],[467,118.3],[467.9,113.4],[468.8,113.4],[469.6,120.5],[470.5,116.4],[471.4,116.8],[472.2,118.7],[473.1,119.4],[474,118.3],[474.9,116],[475.7,118.7],[476.6,120.5],[477.5,121.7],[478.3,123.2],[479.2,125.1],[480.1,122.1],[480.9,123.2],[481.8,121.3],[482.7,122.1],[483.5,128.4],[484.4,125.4],[485.3,120.2],[486.1,122.1],[487,120.2],[487.9,120.9],[488.7,113.4],[489.6,112.7],[490.5,108.1],[491.3,102.1],[492.2,100.6],[493.1,98.4],[493.9,97.6],[494.8,99.1],[495.7,100.6],[496.5,99.1],[497.4,100.6],[498.3,90.1],[499.1,89.4],[500,87.9],[500.9,84.9],[501.7,82.6],[502.6,82.2],[503.5,81.9],[504.3,84.1],[505.2,85.6],[506.1,89.4],[506.9,90.1],[507.8,94.6],[508.7,93.1],[509.5,90.1],[510.4,89.4],[511.3,86.4],[512.1,85.6],[512.7,95.4],[513.3,106.6],[514.2,107.4],[515.1,106.3],[515.9,106.6],[516.8,105.5],[517.7,104.4],[518.5,101.4],[519.4,98.4],[520.3,97.6],[521.1,93.9],[522,91.6],[522.9,90.1],[523.7,87.1],[524.6,86.4],[525.5,86.4],[526.4,86.4],[527.2,85.6],[528.1,81.1],[529,70.6],[529.8,64.6],[530.7,63.1],[531.6,60.4],[532.4,62.3],[533.3,65.3],[534.2,66.8],[535,63.8],[535.9,61.6],[536.8,60.4],[537.6,60.8],[538.5,61.9],[539.4,64.2],[540.2,65.3],[541.1,66.1],[542,67.6],[542.8,67.9],[543.7,69.1],[544.6,67.6],[545.4,69.5],[546.3,68.3],[547.2,66.4],[548,64.6],[548.9,62.7],[549.8,65.3],[550.6,66.8],[551.5,67.6],[552.4,69.1],[553.2,70.6],[554.1,71.3],[554.9,71.7],[555.8,70.2],[556.7,69.8],[557.6,70.2],[558.4,69.8],[559.3,71.3],[560.2,77.3],[561,78.8],[561.9,81.9],[562.8,86.4],[563.6,89.4],[564.5,93.1],[565.4,94.6],[566.2,96.5],[567.1,97.3],[568,93.5],[568.8,91.3],[569.7,90.1],[570.6,89.4],[571.4,92.4],[572.3,94.6],[573.2,93.9],[574,98.4],[574.9,97.6],[575.8,93.9],[576.6,97.6],[577.5,96.1],[578.4,93.1],[579.2,103.6],[580.1,104.4],[581,107.4],[581.8,105.9],[582.7,108.5],[583.6,111.9],[584.4,111.9],[585.3,105.5],[586.2,105.9],[587,102.9],[587.9,93.9],[588.8,90.9],[589.6,87.1],[590.5,78.8],[591.4,67.6]
];

const pressureB: [number, number][] = [
  [99.2,-0.636],[99.9,-0.542],[100.6,-0.542],[101.2,-0.64],[101.9,-0.49],[102.6,-0.569],[103.3,-0.486],[104,-0.565],[104.7,-0.426],[105.4,-0.625],[106.1,-0.452],[106.8,-0.632],[107.5,-0.449],[108.2,-0.748],[108.9,-0.542],[109.6,-0.441],[110.3,-0.715],[111,-0.557],[111.7,-0.715],[112.3,-0.557],[113,-0.67],[113.7,-0.602],[114.4,-0.692],[115.1,-0.37],[115.8,-0.692],[116.5,-0.471],[117.2,-0.677],[117.9,-0.475],[118.6,-0.79],[119.3,-0.471],[120,-0.61],[120.7,-0.527],[121.4,-0.655],[122.1,-0.505],[122.8,-0.572],[123.4,-0.557],[124.1,-0.572],[124.8,-0.438],[125.5,-0.632],[126.2,-0.542],[126.9,-0.385],[127.6,-0.58],[128.3,-0.396],[129,-0.572],[129.7,-0.542],[130.4,-0.767],[131.1,-0.572],[131.8,-0.617],[132.5,-0.797],[133.2,-0.587],[133.8,-0.64],[134.5,-0.524],[135.2,-0.782],[135.9,-0.632],[136.6,-0.782],[137.3,-0.632],[138,-0.516],[138.7,-0.79],[139.4,-0.535],[140.1,-0.655],[140.8,-0.722],[141.5,-0.333],[142.2,-0.722],[142.9,-0.767],[143.6,-0.396],[144.2,-0.722],[144.9,-0.595],[145.6,-0.722],[146.3,-0.535],[147,-0.617],[147.7,-0.542],[148.4,-0.527],[149.1,-0.381],[149.8,-0.572],[150.5,-0.64],[151.2,-0.572],[151.9,-0.482],[152.6,-0.572],[153.3,-0.55],[154,-0.527],[154.7,-0.572],[155.3,-0.617],[156,-0.452],[156.7,-0.572],[157.4,-0.542],[158.1,-0.572],[158.8,-0.52],[159.5,-0.67],[160.2,-0.505],[160.9,-0.542],[161.6,-0.557],[162.3,-0.535],[163,-0.505],[163.7,-0.557],[164.4,-0.535],[165,-0.58],[165.7,-0.535],[166.4,-0.58],[167.1,-0.542],[167.8,-0.557],[168.5,-0.4],[169.2,-0.43],[169.9,-0.535],[170.6,-0.452],[171.3,-0.505],[172,-0.452],[172.7,-0.565],[173.4,-0.467],[174.1,-0.535],[174.8,-0.475],[175.5,-0.542],[176.2,-0.497],[176.8,-0.542],[177.5,-0.475],[178.2,-0.587],[178.9,-0.505],[179.6,-0.617],[180.3,-0.512],[181,-0.572],[181.7,-0.557],[182.4,-0.542],[183.1,-0.535],[183.8,-0.557],[184.5,-0.497],[185.2,-0.512],[185.9,-0.475],[186.6,-0.452],[187.3,-0.527],[187.9,-0.303],[188.6,-0.689],[189.3,-0.467],[190,-0.452],[190.7,-0.535],[191.4,-0.37],[192.1,-0.64],[192.8,-0.542],[193.5,-0.64],[194.2,-0.587],[194.9,-0.565],[195.6,-0.617],[196.3,-0.677],[197,-0.557],[197.7,-0.572],[198.3,-0.617],[199,-0.67],[199.7,-0.696],[200.4,-0.535],[201.1,-0.49],[201.8,-0.842],[202.5,-0.883],[203.2,-0.512],[203.9,-0.535],[204.6,-0.336],[205.3,-0.505],[206,-0.85],[206.7,-0.542],[207.4,-0.475],[208.1,-0.692],[208.8,-0.61],[209.4,-0.692],[210.1,-0.527],[210.8,-0.677],[211.5,-0.438],[212.2,-0.655],[212.9,-0.512],[213.6,-0.67],[214.3,-1.059],[215,-0.992],[215.7,-0.378],[216.4,-0.542],[217.1,-1.086],[217.8,-0.542],[218.5,-0.902],[219.2,-0.542],[219.9,-0.865],[220.5,-0.542],[221.2,-0.812],[221.9,-0.932],[222.6,-0.557],[223.3,-0.58],[224,-0.887],[224.7,-0.587],[225.4,-0.91],[226.1,-0.452],[226.8,-0.617],[227.5,-0.722],[228.2,-0.55],[228.9,-0.692],[229.6,-0.595],[230.3,-0.707],[231,-0.452],[231.6,-0.715],[232.3,-0.497],[233,-0.677],[233.7,-0.542],[234.4,-0.632],[235.1,-0.715],[235.8,-0.527],[236.5,-0.655],[237.2,-0.475],[237.9,-0.737],[238.6,-0.542],[239.3,-0.707],[240,-0.602],[240.7,-0.677],[241.4,-0.505],[242.1,-0.73],[242.7,-0.587],[243.4,-0.692],[244.1,-0.542],[244.8,-0.73],[245.5,-0.632],[246.2,-0.82],[246.9,-0.497],[247.6,-0.64],[248.3,-0.587],[249,-0.505],[249.7,-0.692],[250.4,-0.947],[251.1,-0.542],[251.8,-0.887],[252.5,-0.617],[253.1,-0.925],[253.8,-0.408],[254.5,-0.677],[255.2,-0.587],[255.9,-0.793],[256.6,-0.542],[257.3,-0.67],[258,-0.73],[258.7,-0.542],[259.4,-0.797],[260.1,-0.415],[260.8,-0.692],[261.5,-0.535],[262.2,-0.737],[262.9,-0.587],[263.5,-0.745],[264.2,-0.602],[264.9,-0.737],[265.6,-0.557],[266.3,-0.677],[267,-0.827],[267.7,-0.61],[268.4,-0.76],[269.1,-0.587],[269.8,-0.265],[270.5,-0.67],[271.2,-0.452],[271.9,-0.722],[272.6,-0.449],[273.3,-0.542],[274,-0.482],[274.6,-0.707],[275.3,-0.527],[276,-0.677],[276.7,-0.617],[277.4,-0.82],[278.1,-0.505],[278.8,-0.767],[279.5,-0.482],[280.2,-0.767],[280.9,-0.542],[281.6,-0.572],[282.3,-0.88],[283,-0.91],[283.7,-0.37],[284.4,-0.767],[285.1,-0.31],[285.7,-1.048],[286.4,-0.46],[287.1,-0.782],[287.8,-0.452],[288.5,-1.134],[289.2,-0.452],[289.9,-0.767],[290.6,-0.467],[291.3,-0.542],[292,-0.452],[292.7,-0.951],[293.4,-0.467],[294.1,-0.655],[294.8,-0.452],[295.5,-0.625],[296.2,-0.76],[296.8,-0.542],[297.5,-0.715],[298.2,-0.505],[298.9,-0.617],[299.6,-0.213],[300.3,-0.872],[301,-0.467],[301.7,-0.303],[302.4,-0.58],[303.1,-0.542],[303.8,-0.793],[304.5,-0.505],[305.2,-0.216],[305.9,-0.677],[306.6,-0.512],[307.2,-0.557],[307.9,-0.512],[308.6,-0.542],[309.3,-0.602],[310,-0.378],[310.7,-0.557],[311.4,-0.535],[312.1,-0.542],[312.8,-0.527],[313.5,-0.557],[314.2,-0.452],[314.9,-0.617],[315.6,-0.557],[316.3,-0.505],[316.9,-0.535],[317.6,-0.617],[318.3,-0.49],[319,-0.587],[319.7,-0.542],[320.4,-0.404],[321.1,-0.64],[321.8,-0.535],[322.5,-0.61],[323.2,-0.445],[323.9,-0.595],[324.6,-0.497],[325.3,-0.557],[326,-0.572],[326.7,-0.231],[327.4,-0.64],[328,-0.527],[328.7,-0.587],[329.4,-0.464],[330.1,-0.647],[330.8,-0.542],[331.5,-0.325],[332.2,-0.647],[332.9,-0.827],[333.6,-0.497],[334.3,-0.565],[335,-0.542],[335.7,-0.782],[336.4,-0.505],[337.1,-0.767],[337.8,-0.497],[338.5,-0.737],[339.1,-0.587],[339.8,-0.692],[340.5,-0.355],[341.2,-0.73],[341.9,-0.842],[342.6,-0.467],[343.3,-0.557],[344,-0.692],
  [344.8,-0.452],[345.7,-0.692],[346.4,-0.404],[347.1,-0.715],[347.7,-0.482],[348.4,-0.617],[349.1,-0.497],[349.8,-0.602],[350.5,-0.482],[351.2,-0.632],[351.9,-0.527],[352.6,-0.647],[353.3,-0.512],[354,-0.632],[354.7,-0.52],[355.4,-0.602],[356.1,-0.527],[356.8,-0.629],[357.5,-0.557],[358.2,-0.632],[358.8,-0.46],[359.5,-0.617],[360.2,-0.475],[360.9,-0.542],[361.6,-0.647],[362.3,-0.542],[363,-0.408],[363.5,-0.741],[364.2,-0.572],[364.9,-0.617],[365.6,-0.542],[366.3,-0.67],[367,-0.527],[367.7,-0.542],[368.4,-0.737],[369.1,-0.505],[369.8,-0.707],[370.5,-0.542],[371.2,-0.722],[371.8,-0.527],[372.5,-0.617],[373.2,-0.535],[373.9,-0.715],[374.6,-0.505],[375.3,-0.707],[376,-0.497],[376.7,-0.572],[377.4,-0.542],[378.1,-0.677],[378.8,-0.276],[379.5,-0.58],[380.2,-0.31],[380.9,-0.617],[381.6,-0.512],[382.3,-0.542],[382.9,-0.542],[383.6,-0.61],[384.3,-0.542],[385,-0.351],[385.7,-0.617],[386.4,-0.408],[387.1,-0.655],[387.8,-0.52],[388.5,-0.617],[389.2,-0.423],[389.9,-0.617],[390.6,-0.512],[391.3,-0.374],[392,-0.655],[392.7,-0.542],[393.4,-0.512],[394,-0.67],[394.7,-0.512],[395.4,-0.692],[396.1,-0.527],[396.8,-0.572],[397.5,-0.512],[398.2,-0.602],[398.9,-0.445],[399.6,-0.325],[400.3,-0.557],[401,-0.408],[401.7,-0.692],[402.4,-0.542],[403.1,-0.602],[403.8,-0.542],[404.5,-0.535],[405.1,-0.662],[405.8,-0.497],[406.5,-0.61],[407.2,-0.527],[407.9,-0.602],[408.6,-0.505],[409.3,-0.662],[410,-0.512],[410.7,-0.535],[411.4,-0.595],[412.1,-0.542],[412.8,-0.602],[413.5,-0.445],[414.2,-0.715],[414.9,-0.542],[415.5,-0.632],[416.2,-0.7],[416.9,-0.557],[417.6,-0.655],[418.3,-0.868],[419,-0.587],[419.7,-0.438],[420.4,-0.677],[421.1,-0.812],[421.8,-0.49],[422.5,-0.692],[423.2,-0.438],[423.9,-0.7],[424.6,-0.542],[425.3,-0.707],[426,-0.467],[426.6,-0.602],[427.3,-0.467],[428,-0.074],[428.7,-0.715],[429.4,-0.767],[430.1,-0.423],[430.8,-0.497],[431.5,-0.438],[432.2,-0.655],[432.9,-0.497],[433.6,-0.423],[434.3,-0.542],[435,-0.482],[435.7,-0.617],[436.4,-0.505],[437.1,-0.542],[437.7,-0.572],[438.4,-0.527],[439.1,-0.378],[439.8,-0.602],[440.5,-0.542],[441.2,-0.512],[441.9,-0.632],[442.6,-0.497],[443.3,-0.692],[444,-0.445],[444.7,-0.715],[445.4,-0.542],[446.1,-0.527],[446.8,-0.557],[447.5,-0.61],[448.1,-0.527],[448.8,-0.542],[449.5,-0.64],[450.2,-0.557],[450.9,-0.632],[451.6,-0.595],[452.3,-0.557],[453,-0.404],[453.7,-0.61],[454.4,-0.542],[455.1,-0.67],[455.8,-0.542],[456.5,-0.602],[457.2,-0.535],[457.9,-0.722],[458.6,-0.557],[459.2,-0.535],[459.9,-0.535],[460.6,-0.55],[461.3,-0.542],[462,-0.67],[462.7,-0.408],[463.4,-0.782],[464.1,-0.535],[464.8,-0.662],[465.5,-0.632],[466.2,-0.542],[466.9,-0.677],[467.6,-0.389],[468.3,-0.617],[469,-0.835],[469.6,-0.527],[470.3,-0.587],[471,-0.438],[471.7,-1.082],[472.4,-0.415],[473.1,-0.917],[473.8,-0.82],[474.5,-0.441],[475.2,-0.91],[475.9,-0.632],[476.6,-0.43],[477.3,-1.037],[478,-0.602],[478.7,-1.045],[479.4,-0.692],[480.1,-0.898],[480.7,-0.587],[481.4,-0.767],[482.1,-0.527],[482.8,-0.805],[483.5,-0.595],[484.2,-0.467],[484.9,-0.767],[485.6,-0.512],[486.3,-0.692],[487,-0.467],[487.7,-0.333],[488.4,-0.79],[489.1,-0.542],[489.8,-0.692],[490.5,-0.467],[491.1,-1.015],[491.8,-0.617],[492.5,-0.842],[493.2,-0.692],[493.9,-0.865],[494.6,-0.61],[495.3,-0.82],[496,-0.557],[496.7,-0.891],[497.4,-0.542],[498.1,-0.865],[498.8,-0.73],[499.5,-0.805],[500.2,-0.632],[500.9,-0.82],[501.6,-0.557],[502.2,-0.812],[502.9,-0.587],[503.6,-0.737],[504.3,-0.587],[505,-0.782],[505.7,-0.655],[506.4,-0.767],[507.1,-0.662],[507.8,-0.314],[508.5,-0.73],[509.2,-0.602],[509.9,-0.737],[510.6,-0.602],[511.3,-0.782],[512,-0.542],[512.7,-0.737],[513.3,-0.505],[514,-0.767],[514.7,-0.408],[515.4,-0.61],[516.1,-0.767],[516.8,-0.378],[517.5,-0.737],[518.2,-0.891],[518.9,-0.542],[519.6,-0.707],[520.3,-0.775],[521,-0.617],[521.7,-0.482],[522.4,-0.677],[523.1,-0.497],[523.8,-0.692],[524.4,-0.557],[525.1,-0.64],[525.8,-0.505],[526.5,-0.617],[527.2,-0.542],[527.9,-0.61],[528.6,-0.812],[529.3,-0.647],[530,-0.505],[530.7,-0.325],[531.4,-0.61],[532.1,-0.482],[532.8,-0.557],[533.5,-0.527],[534.2,-0.572],[534.9,-0.49],[535.5,-0.61],[536.2,-0.527],[536.9,-0.572],[537.6,-0.43],[538.3,-0.632],[539,-0.542],[539.7,-0.505],[540.4,-0.64],[541.1,-0.587],[541.8,-0.475],[542.5,-0.617],[543.2,-0.542],[543.9,-0.647],[544.6,-0.325],[545.3,-0.64],[546,-0.542],[546.6,-0.64],[547.3,-0.52],[548,-0.662],[548.7,-0.542],[549.4,-0.632],[550.1,-0.535],[550.8,-0.677],[551.5,-0.512],[552.2,-0.707],[552.9,-0.542],[553.6,-0.677],[554.3,-0.565],[555,-0.767],[555.7,-0.527],[556.3,-0.4],[557,-0.677],[557.7,-0.542],[558.4,-0.715],[559.1,-0.602],[559.8,-0.662],[560.5,-0.542],[561.2,-0.647],[561.9,-0.587],[562.6,-0.527],[563.3,-0.685],[564,-0.587],[564.7,-0.692],[565.4,-0.527],[566.1,-0.64],[566.8,-0.557],[567.4,-0.895],[568.1,-0.542],[568.8,-0.715],[569.5,-0.572],[570.2,-0.662],[570.9,-0.527],[571.6,-0.617],[572.3,-0.745],[573,-0.527],[573.7,-0.265],[574.4,-0.752],[575.1,-0.49],[575.8,-0.677],[576.5,-0.505],[577.2,-0.767],[577.9,-0.542],[578.5,-0.805],[579.2,-0.505],[579.9,-0.767],[580.6,-0.527],[581.3,-0.805],[582,-0.542],[582.7,-0.79],[583.4,-0.557],[584.1,-0.722],[584.8,-0.542],[585.5,-0.752],[586.2,-0.527],[586.9,-0.542],[587.6,-0.452],[588.3,-0.602],[589,-0.632],[589.6,-0.883],[590.3,-0.587],[591,-0.471],[591.7,-0.617]
];

const fmtNum = (v: number) => String(v);
const fmtNeg = (v: number) => (v < 0 ? '\u2212' : '') + Math.abs(v).toFixed(1);

const TICK_FS = 68;
const DEP_FS = 88;
const PRES_FS = 86;

function richName(color: string, fs: number, mathPad: number[], parenPad: number[]) {
  return {
    color,
    fontFamily: FONT,
    fontSize: fs,
    lineHeight: fs,
    rich: {
      r: { color, fontFamily: FONT, fontSize: fs, lineHeight: fs },
      p: { color, fontFamily: FONT, fontSize: fs, lineHeight: fs, padding: parenPad },
      i: { color, fontFamily: FONT, fontSize: fs, lineHeight: fs, fontStyle: 'italic', padding: mathPad },
      s: { color, fontFamily: FONT, fontSize: Math.round(fs * 0.7), verticalAlign: 'top', height: Math.round(fs * 0.64), padding: [0, 0, 0, 6] },
    },
  };
}

function xAxisDef(gridIndex: number, range: number[], ticks: number[], margin: number, nameGap: number) {
  return {
    type: 'value',
    gridIndex,
    min: range[0],
    max: range[1],
    position: 'bottom',
    axisLine: { show: true, onZero: false, lineStyle: { color: '#000', width: 3.3 } },
    axisTick: { show: true, customValues: ticks, length: 14, lineStyle: { color: '#000', width: 3.3 } },
    axisLabel: { customValues: ticks, margin, color: '#000', fontFamily: FONT, fontSize: TICK_FS, formatter: fmtNum },
    splitLine: { show: false },
    name: '{r|Time }{i|tU/D}',
    nameLocation: 'middle',
    nameGap,
    nameTextStyle: richName('#000', DEP_FS, [0, 6, 0, 2], [0, 0, 0, 0]),
  };
}

function yAxisDef(gridIndex: number, position: 'left' | 'right', range: number[], ticks: number[], margin: number,
  fmt: (v: number) => string, name: string, textStyle: any, nameGap: number) {
  return {
    type: 'value',
    gridIndex,
    position,
    min: range[0],
    max: range[1],
    axisLine: { show: true, onZero: false, lineStyle: { color: '#000', width: 3.3 } },
    axisTick: { show: true, customValues: ticks, length: 14, lineStyle: { color: '#000', width: 3.3 } },
    axisLabel: { customValues: ticks, margin, color: '#000', fontFamily: FONT, fontSize: TICK_FS, formatter: fmt },
    splitLine: { show: false },
    name,
    nameLocation: 'middle',
    nameRotate: 90,
    nameGap,
    nameTextStyle: textStyle,
  };
}

const DEP_NAME = '{r|Deposition rate }{p|(}{i|tU/D}{p|)}{s|\u22121}';
const PRES_NAME = '{r|Pressure }{i|p/\u03c1U}{s|2}';

function panelLabel(x: number, letter: string) {
  return {
    type: 'text',
    x,
    y: 51,
    style: {
      text: '{n|(}{i|' + letter + '}{n|)}',
      fontFamily: FONT,
      fontSize: 84,
      fill: '#000',
      verticalAlign: 'middle',
      align: 'left',
      rich: {
        n: { fontFamily: FONT, fontSize: 84, lineHeight: 84, fill: '#000' },
        i: { fontFamily: FONT, fontSize: 84, lineHeight: 84, fill: '#000', fontStyle: 'italic' },
      },
    },
  };
}

export default function App() {
  const ref = useRef<HTMLDivElement>(null);
  useEffect(() => {
    if (!ref.current) return;
    const chart = echarts.init(ref.current, undefined, { renderer: 'svg' });
    const depStyle = richName(BLUE, DEP_FS, [0, 5, 0, 3], [0, 2, 0, 2]);
    const presStyle = richName(ORANGE, PRES_FS, [0, 0, 0, 0], [0, 0, 0, 0]);
    const option = {
      animation: false,
      backgroundColor: '#ffffff',
      grid: [
        { left: 275.5, top: 123.7, width: 1335.1, height: 867.3, show: true, borderColor: '#000', borderWidth: 3.3, backgroundColor: 'transparent', containLabel: false },
        { left: 2311.7, top: 138.4, width: 1317, height: 854.1, show: true, borderColor: '#000', borderWidth: 3.3, backgroundColor: 'transparent', containLabel: false },
      ],
      xAxis: [
        xAxisDef(0, timeRangeA, timeTicksA, 40, 136),
        xAxisDef(1, timeRangeB, timeTicksB, 38, 134),
      ],
      yAxis: [
        yAxisDef(0, 'left', depRangeA, depTicksA, 46, fmtNum, DEP_NAME, depStyle, 170),
        yAxisDef(0, 'right', presRangeA, presTicksA, 43, fmtNeg, PRES_NAME, presStyle, 226),
        yAxisDef(1, 'left', depRangeB, depTicksB, 45, fmtNum, DEP_NAME, depStyle, 200),
        yAxisDef(1, 'right', presRangeB, presTicksB, 44, fmtNeg, PRES_NAME, presStyle, 223),
      ],
      series: [
        { type: 'line', name: 'Deposition (a)', xAxisIndex: 0, yAxisIndex: 0, data: depositionA, showSymbol: false, symbol: 'none', lineStyle: { color: BLUE, width: 5.8 }, itemStyle: { color: BLUE } },
        { type: 'line', name: 'Pressure (a)', xAxisIndex: 0, yAxisIndex: 1, data: pressureA, showSymbol: false, symbol: 'none', lineStyle: { color: ORANGE, width: 5.8 }, itemStyle: { color: ORANGE } },
        { type: 'line', name: 'Deposition (b)', xAxisIndex: 1, yAxisIndex: 2, data: depositionB, showSymbol: false, symbol: 'none', lineStyle: { color: BLUE, width: 5.8 }, itemStyle: { color: BLUE } },
        { type: 'line', name: 'Pressure (b)', xAxisIndex: 1, yAxisIndex: 3, data: pressureB, showSymbol: false, symbol: 'none', lineStyle: { color: ORANGE, width: 5.8 }, itemStyle: { color: ORANGE } },
      ],
      graphic: [panelLabel(30, 'a'), panelLabel(2034, 'b')],
    };
    chart.setOption(option as any);
    return () => chart.dispose();
  }, []);
  return <div ref={ref} style={{ position: 'absolute', left: 0, top: 0, width: 3950, height: 1285 }} />;
}
